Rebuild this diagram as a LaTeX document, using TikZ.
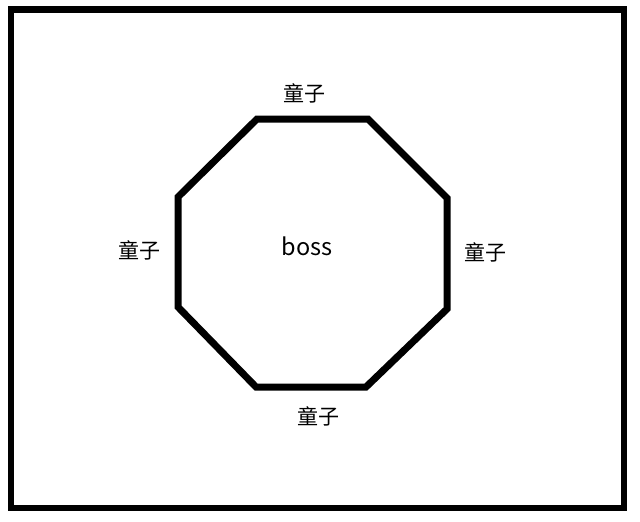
\documentclass[tikz,border=0pt]{standalone}
\usepackage{fontspec}
\setmainfont{Noto Sans CJK SC}
\begin{document}
\begin{tikzpicture}[x=1pt,y=-1pt,
  lbl/.style={inner sep=0pt,font=\fontsize{21}{24}\selectfont},
  oct/.style={line width=7pt,line join=miter,black},
  frame/.style={line width=6.5pt,black}]
\useasboundingbox (0,0) rectangle (640,522);
\fill[white] (0,0) rectangle (640,522);
\draw[frame] (11,9.5) rectangle (624,508);
\coordinate (v1) at (257,119);
\coordinate (v2) at (368,119);
\coordinate (v3) at (447,198);
\coordinate (v4) at (447,309);
\coordinate (v5) at (366,387);
\coordinate (v6) at (256,387);
\coordinate (v7) at (178,307);
\coordinate (v8) at (178,197);
\draw[oct] (v1) -- (v2) -- (v3) -- (v4) -- (v5) -- (v6) -- (v7) -- (v8) -- cycle;
\node[lbl] (top) at (304,93) {童子};
\node[lbl] (left) at (139,250) {童子};
\node[lbl] (right) at (485,252) {童子};
\node[lbl] (bottom) at (318,416) {童子};
\node[lbl,anchor=base,font=\fontsize{23.5}{26}\selectfont] (boss) at (307,255) {boss};
\end{tikzpicture}
\end{document}
